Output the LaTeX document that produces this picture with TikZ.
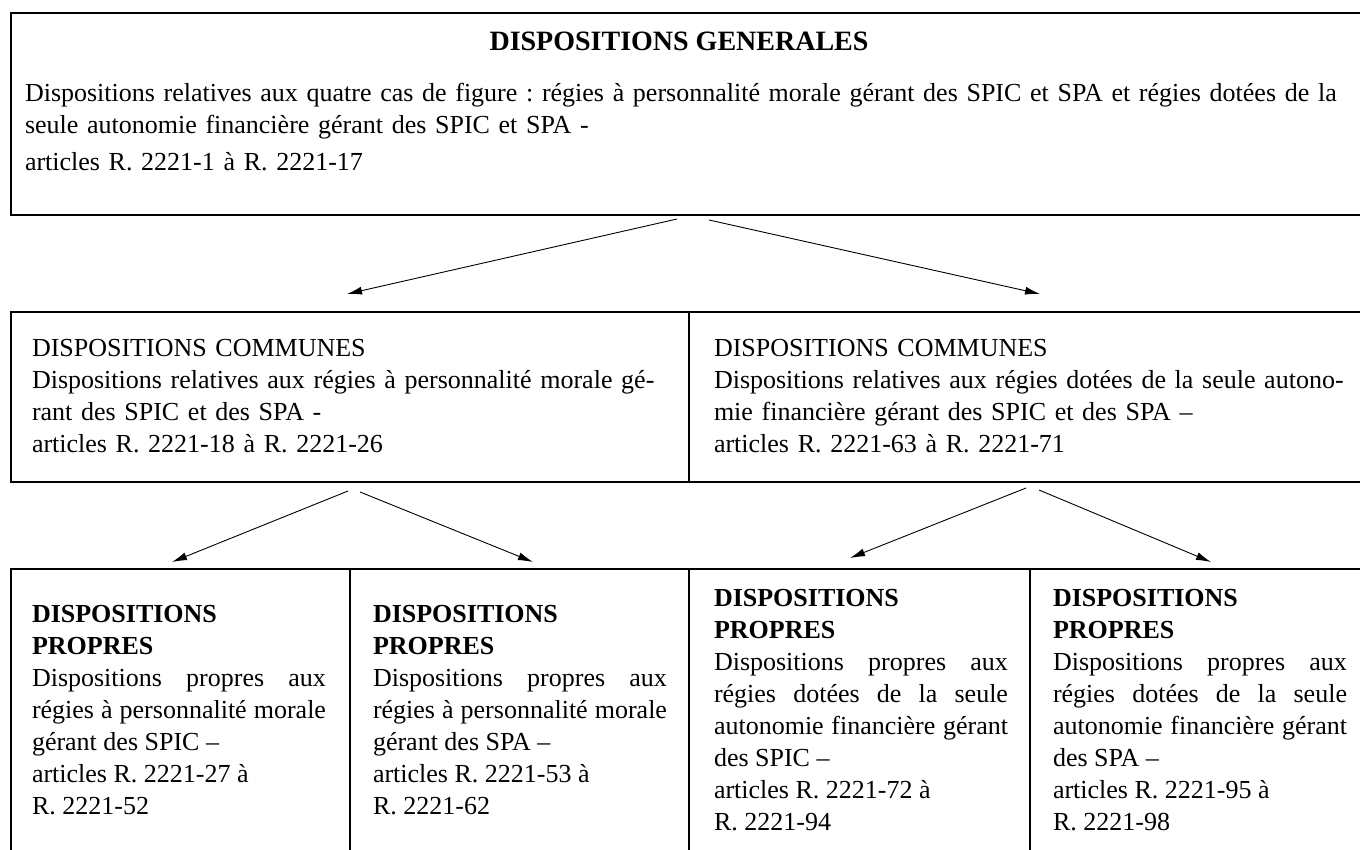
\documentclass[tikz,border=0pt]{standalone}
\usepackage{fontspec}
\setmainfont{Liberation Serif}
\usetikzlibrary{arrows.meta}
\newcommand\bodyfs{\fontsize{26}{32}\selectfont\frenchspacing\hyphenpenalty=10000\exhyphenpenalty=10000\relax}
\newcommand\sqz[1]{{\spaceskip=0.12em plus 30pt minus 0.1em\relax #1}}
\begin{document}
\begin{tikzpicture}[x=1pt,y=-1pt,
  box/.style={draw, line width=2.2pt, inner sep=0pt, outer sep=0pt, anchor=north west},
  txt/.style={anchor=base west, inner sep=0pt, outer sep=0pt, font=\bodyfs},
  ctxt/.style={txt, text width=294pt, align=justify},
  conn/.style={line width=0.9pt, -{Latex[length=15pt,width=8pt]}}]
\useasboundingbox (0,0) rectangle (1360,850);
\clip (0,0) rectangle (1360,850);
% boxes
\node[box, minimum width=1353pt, minimum height=202pt] (gen) at (11,13) {};
\node[box, minimum width=678pt, minimum height=170pt] (comA) at (11,312) {};
\node[box, minimum width=675pt, minimum height=170pt] (comB) at (689,312) {};
\node[box, minimum width=339pt, minimum height=291pt] (p1) at (11,569) {};
\node[box, minimum width=339pt, minimum height=291pt] (p2) at (350,569) {};
\node[box, minimum width=341pt, minimum height=291pt] (p3) at (689,569) {};
\node[box, minimum width=334pt, minimum height=291pt] (p4) at (1030,569) {};
% texts
\node[txt, anchor=base, font=\fontsize{28}{32}\selectfont\bfseries] (gentitle) at (679,51) {DISPOSITIONS GENERALES};
\node[txt, text width=1400pt, align=left] (gentext) at (25,102)
  {Dispositions relatives aux quatre cas de figure : régies à personnalité morale gérant des SPIC et SPA et régies dotées de la\\
   seule autonomie financière gérant des SPIC et SPA -\\[5pt]
   articles R. 2221-1 à R. 2221-17};
\node[txt, text width=700pt, align=left] (comAtext) at (32,356)
  {DISPOSITIONS COMMUNES\\
   Dispositions relatives aux régies à personnalité morale gé-\\
   rant des SPIC et des SPA -\\
   articles R. 2221-18 à R. 2221-26};
\node[txt, text width=700pt, align=left] (comBtext) at (714,356)
  {DISPOSITIONS COMMUNES\\
   Dispositions relatives aux régies dotées de la seule autono-\\
   mie financière gérant des SPIC et des SPA –\\
   articles R. 2221-63 à R. 2221-71};
\node[ctxt] (p1text) at (32,622)
  {\textbf{DISPOSITIONS}\\ \textbf{PROPRES}\\
   Dispositions propres aux\linebreak
   \sqz{régies à personnalité morale}\linebreak
   gérant des SPIC –\\
   articles R. 2221-27 à\\
   R. 2221-52};
\node[ctxt] (p2text) at (373,622)
  {\textbf{DISPOSITIONS}\\ \textbf{PROPRES}\\
   Dispositions propres aux\linebreak
   \sqz{régies à personnalité morale}\linebreak
   gérant des SPA –\\
   articles R. 2221-53 à\\
   R. 2221-62};
\node[ctxt] (p3text) at (714,606)
  {\textbf{DISPOSITIONS}\\ \textbf{PROPRES}\\
   Dispositions propres aux\linebreak
   régies dotées de la seule\linebreak
   \sqz{autonomie financière gérant}\linebreak
   des SPIC –\\
   articles R. 2221-72 à\\
   R. 2221-94};
\node[ctxt] (p4text) at (1053,606)
  {\textbf{DISPOSITIONS}\\ \textbf{PROPRES}\\
   Dispositions propres aux\linebreak
   régies dotées de la seule\linebreak
   \sqz{autonomie financière gérant}\linebreak
   des SPA –\\
   articles R. 2221-95 à\\
   R. 2221-98};
% connector end points
\coordinate (g1) at (677,219);
\coordinate (g2) at (709,220);
\coordinate (cA) at (347,294);
\coordinate (cB) at (1040,294);
\coordinate (a1) at (348,491);
\coordinate (a2) at (360,492);
\coordinate (t1) at (172,562);
\coordinate (t2) at (533,562);
\coordinate (b1) at (1026,488);
\coordinate (b2) at (1039,490);
\coordinate (t3) at (850,558);
\coordinate (t4) at (1211,562);
\draw[conn] (g1) -- (cA);
\draw[conn] (g2) -- (cB);
\draw[conn] (a1) -- (t1);
\draw[conn] (a2) -- (t2);
\draw[conn] (b1) -- (t3);
\draw[conn] (b2) -- (t4);
\end{tikzpicture}
\end{document}
